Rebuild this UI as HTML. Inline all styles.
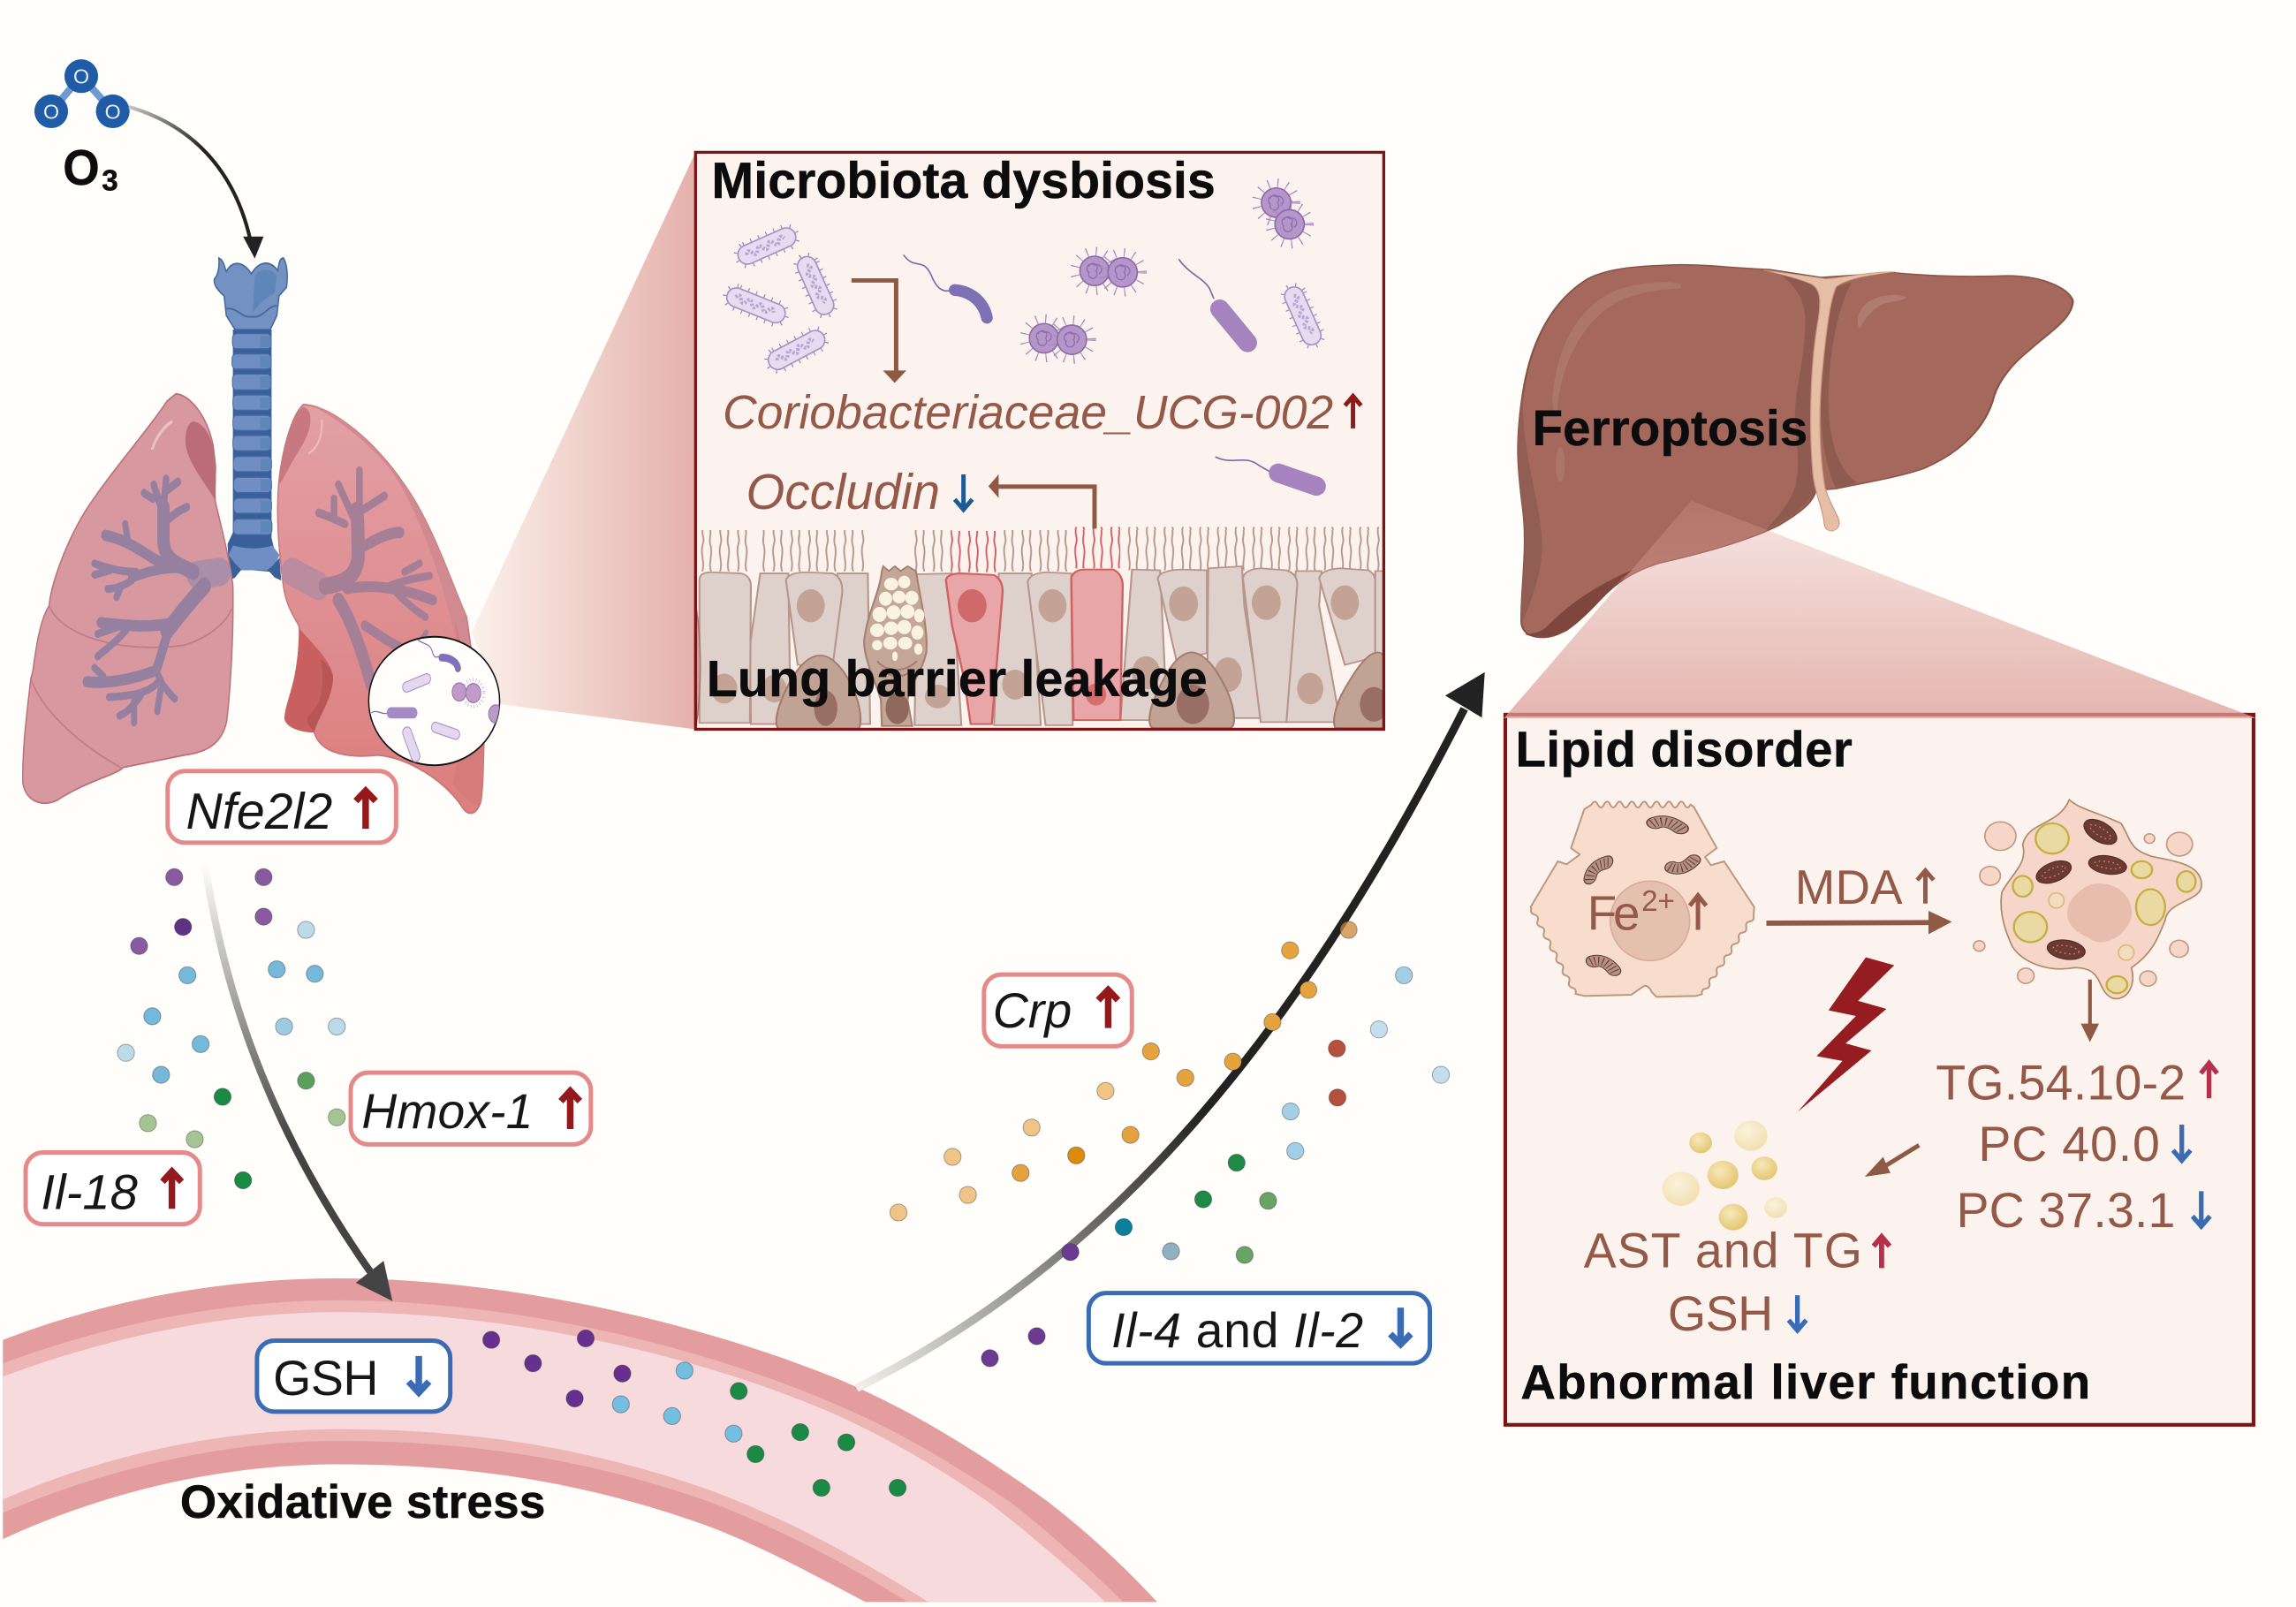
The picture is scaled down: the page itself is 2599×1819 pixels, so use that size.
<!DOCTYPE html>
<html><head><meta charset="utf-8"><style>
html,body{margin:0;padding:0;background:#fffefa}
svg{display:block}
text{font-family:"Liberation Sans",sans-serif}
.b{font-weight:700;fill:#0c0c0c;stroke:#0c0c0c;stroke-width:.3}
.k{fill:#161616}
.i{font-style:italic}
.br{fill:#95594a}
.lab{fill:#fff;stroke-width:3}
.r{stroke:#e58a8a}.u{stroke:#3a6bb5}
.tr{stroke:#95191b;stroke-width:4.5;fill:none}
.tb{stroke:#3a6bb5;stroke-width:4.5;fill:none}
.ar{fill:none;stroke:#8e5a45}
.d{stroke:rgba(40,40,50,.4);stroke-width:.6}
.th{fill:none;stroke:#7d6aa8;stroke-width:1}
.cell{fill:#ded1cb;stroke:#b89589;stroke-width:4}
.red{fill:#e9a6a9;stroke:#d0615f;stroke-width:4.5}
.nu{fill:#c2a396}
.bas{fill:#c1a395;stroke:#a47c6e;stroke-width:4}
.bn{fill:#976f65}
.dm{fill:#6d3a32;stroke:#4f2a24;stroke-width:2}
.dz{fill:none;stroke:#b98c7c;stroke-width:2.5;stroke-dasharray:3 6}
.ld{fill:#ead9a2;stroke:#c4ae3f;stroke-width:4}
.bl{fill:#f6d6c8;stroke:#c59a80;stroke-width:3}
</style></head><body>
<svg xmlns="http://www.w3.org/2000/svg" width="2599" height="1819" viewBox="0 0 1568 1097.4">
<defs>
<linearGradient id="t1" x1="322" x2="475" y1="0" y2="0" gradientUnits="userSpaceOnUse"><stop offset="0" stop-color="#fbf0ea"/><stop offset="1" stop-color="#e5b1ac"/></linearGradient>
<linearGradient id="t2" x1="0" x2="0" y1="342" y2="490" gradientUnits="userSpaceOnUse"><stop offset="0" stop-color="#dd9d98" stop-opacity=".25"/><stop offset="1" stop-color="#dd9d98" stop-opacity=".75"/></linearGradient>
<linearGradient id="a0" x1="88" x2="140" y1="73" y2="100" gradientUnits="userSpaceOnUse"><stop offset="0" stop-color="#c9c5c0"/><stop offset="1" stop-color="#222"/></linearGradient>
<linearGradient id="a1" x1="0" x2="0" y1="590" y2="780" gradientUnits="userSpaceOnUse"><stop offset="0" stop-color="#fffefa"/><stop offset="1" stop-color="#444"/></linearGradient>
<linearGradient id="a2" x1="585" x2="830" y1="948" y2="770" gradientUnits="userSpaceOnUse"><stop offset="0" stop-color="#f2efe9"/><stop offset="1" stop-color="#222"/></linearGradient>
<linearGradient id="rl" x1="0" x2="0" y1="720" y2="1400" gradientUnits="userSpaceOnUse"><stop offset="0" stop-color="#e2a0a6"/><stop offset="1" stop-color="#dc7f7f"/></linearGradient>
<radialGradient id="gold" cx=".4" cy=".35" r=".7"><stop offset="0" stop-color="#f7e8bb"/><stop offset="1" stop-color="#e3c46e"/></radialGradient>
<radialGradient id="pale" cx=".4" cy=".35" r=".7"><stop offset="0" stop-color="#fbf2dc"/><stop offset="1" stop-color="#f1dfae"/></radialGradient>
<pattern id="ci" width="38" height="105" patternUnits="userSpaceOnUse" y="1008"><path d="M9,105C2,85 14,62 7,35C4,20 10,10 7,0M28,105C35,80 22,60 30,32C33,18 26,10 29,0" fill="none" stroke="#b89589" stroke-width="3.6"/></pattern>
<pattern id="cr" width="38" height="105" patternUnits="userSpaceOnUse" y="1008"><path d="M9,105C2,85 14,62 7,35C4,20 10,10 7,0M28,105C35,80 22,60 30,32C33,18 26,10 29,0" fill="none" stroke="#d45f63" stroke-width="3.6"/></pattern>
<clipPath id="bc"><rect x="475" y="104" width="470" height="394"/></clipPath>
<clipPath id="mc"><ellipse cx="988" cy="1244" rx="149" ry="114"/></clipPath>
<clipPath id="pg"><rect x="0" y="0" width="1568" height="1094"/></clipPath>
<g id="rod">
 <rect x="-22" y="-7.5" width="44" height="15" rx="7.5" fill="none" stroke="#9c85bd" stroke-width="3.5" stroke-dasharray=".7 5"/>
 <rect x="-21" y="-6.5" width="42" height="13" rx="6.5" fill="#e6dbef" stroke="#a88fc8" stroke-width="1"/>
 <path d="M-15,0q2,-4 4,0t4,0t4,0t4,0t4,0t4,0t4,0" fill="none" stroke="#b9a3d3" stroke-width="2.5" stroke-dasharray="1.5 1"/>
</g>
<g id="coc">
 <circle r="13" fill="none" stroke="#a888c0" stroke-width="7" stroke-dasharray=".7 5.5"/>
 <circle r="10" fill="#b596c8" stroke="#9069ad" stroke-width="1"/>
 <path d="M-4,-3a3,3 0 1 1 5,3a3,3 0 1 1 -5,1a3,3 0 1 1 4,-5a3,3 0 1 1 3,6" fill="none" stroke="#8f6cb0" stroke-width=".8"/>
</g>
<g id="mito">
 <path fill="none" stroke="#5f3a30" stroke-width="40" stroke-linecap="round" d="M0,0C15,-12 35,-12 58,10"/>
 <path fill="none" stroke="#b59186" stroke-width="34" stroke-linecap="round" d="M0,0C15,-12 35,-12 58,10"/>
 <path fill="none" stroke="#5f3a30" stroke-width="28" stroke-dasharray="2.5 8" d="M-6,3C15,-12 35,-12 62,14"/>
</g>
</defs>
<rect width="1568" height="1097.4" fill="#fffefa"/>

<!-- vessel -->
<g clip-path="url(#pg)">
<path fill="#e49d9f" d="M2,915C80,885 160,873 231,873C340,873 470,900 573,942C630,966 680,1000 715,1025C745,1048 770,1072 793,1097L593,1097L591,1094C555,1075 520,1056 483,1042C400,1012 320,1000 231,1000C160,1000 80,1015 2,1051Z"/>
<path fill="#eeb5b5" d="M2,931C80,902 160,888 231,888C340,888 470,915 573,960C620,980 655,1003 689,1025C715,1045 745,1072 770,1097L623,1097L620,1094C575,1066 530,1043 483,1025C400,996 320,984 231,984C160,984 80,1000 2,1033Z"/>
<path fill="#f6dadc" d="M2,940C80,911 160,896 231,896C340,896 470,922 573,967C610,984 645,1005 674,1025C700,1045 730,1070 758,1097L637,1097L634,1094C585,1063 535,1036 483,1017C400,988 320,976 231,976C160,976 80,990 2,1024Z"/>
</g>

<!-- triangle to microbiota box -->
<polygon points="322,432 475,104 475,498 342,481" fill="url(#t1)"/>

<!-- lungs -->
<g transform="scale(.3001,.3848)">
 <!-- trachea -->
 <path fill="#3a6099" d="M530,585H618V955L640,1025L620,1015L575,1012L535,1012L522,1030L518,965L530,945Z"/>
 <g fill="#6f8fc4" stroke="#45699e" stroke-width="2">
  <rect x="529" y="592" width="88" height="27" rx="9"/><rect x="528" y="628" width="89" height="27" rx="9"/><rect x="529" y="664" width="88" height="28" rx="9"/><rect x="530" y="701" width="87" height="27" rx="9"/><rect x="530" y="737" width="87" height="27" rx="9"/><rect x="530" y="773" width="87" height="27" rx="9"/><rect x="531" y="810" width="87" height="27" rx="9"/><rect x="532" y="847" width="86" height="27" rx="9"/><rect x="532" y="884" width="86" height="27" rx="9"/><rect x="531" y="921" width="88" height="28" rx="9"/>
 </g>
 <g fill="#5f86b8"><rect x="592" y="596" width="24" height="20"/><rect x="592" y="632" width="24" height="20"/><rect x="592" y="668" width="24" height="21"/><rect x="592" y="705" width="24" height="20"/><rect x="592" y="741" width="24" height="20"/><rect x="592" y="777" width="24" height="20"/><rect x="593" y="814" width="24" height="20"/><rect x="593" y="851" width="24" height="20"/><rect x="593" y="888" width="24" height="20"/><rect x="593" y="925" width="24" height="20"/></g>
 <path fill="#6f8fc4" d="M530,968C560,975 595,975 620,968L636,985L628,1000L610,1012H550L535,1000L520,985Z"/>
 <path fill="#3a6099" d="M522,990C535,1000 545,1015 550,1010L535,1025L522,1030ZM636,990C625,1000 612,1012 608,1010L625,1025L640,1030Z"/>
 <path fill="#7392c2" stroke="#45699e" stroke-width="3" d="M498,458C510,462 512,478 515,482C530,460 555,465 572,486C590,462 615,462 632,480C635,470 635,458 645,458C655,470 655,495 652,510L635,525L630,560L615,585H535L515,560L510,525C495,515 485,505 488,495C495,490 500,475 498,458Z"/>
 <path fill="#5f86b8" d="M580,490C590,475 620,475 630,490L625,520C600,530 585,545 575,555Z"/>
 <path fill="none" stroke="#45699e" stroke-width="3" d="M515,548C540,545 550,565 572,562C600,565 605,545 630,542"/>
 <!-- left lung -->
 <path fill="#d8989f" stroke="#bb717b" stroke-width="3" d="M400,699C430,700 470,735 485,790C492,830 488,870 490,890C505,940 525,1000 530,1040C532,1120 525,1220 516,1280C505,1320 470,1335 420,1340L280,1362C265,1375 200,1385 130,1420C100,1432 60,1425 52,1390C50,1330 62,1260 70,1205L75,1190C85,1130 95,1095 112,1075C115,1040 150,960 200,900C260,830 340,760 380,712Z"/>
 <path fill="#bb6c79" d="M440,748C470,750 490,790 492,830L490,888C470,860 425,820 422,785C422,760 430,750 440,748Z"/>
 <path fill="none" stroke="#c27c85" stroke-width="3" d="M112,1075C140,1130 280,1160 420,1145C480,1130 520,1100 527,1080M70,1205C100,1270 200,1330 275,1362"/>
 <path fill="none" stroke="#e8c0c5" stroke-width="6" d="M346,798C355,775 375,755 392,748"/>
 <g fill="none" stroke="#9680a0" stroke-linecap="round">
  <path stroke="#ab8fa8" stroke-width="50" d="M500,1015L450,1020"/>
  <path stroke-width="28" d="M440,1015C400,1000 375,995 372,960L372,900"/>
  <path stroke-width="15" d="M372,915L350,860M372,900L378,850M372,930C390,915 410,905 425,900M348,885L328,875M380,870L405,855"/>
  <path stroke-width="20" d="M370,1000C330,985 300,960 240,950"/>
  <path stroke-width="14" d="M290,955L285,930M310,1015C280,1015 250,1010 215,1000M250,1012L215,1020M300,1030C280,1040 260,1045 245,1045M275,1042L265,1060"/>
  <path stroke-width="18" d="M430,1010C390,1005 350,1010 300,1025"/>
  <path stroke-width="30" d="M465,1040C430,1070 410,1090 380,1120"/>
  <path stroke-width="20" d="M395,1105C340,1115 290,1110 230,1105M385,1115C370,1150 365,1170 355,1190C320,1200 260,1215 198,1210"/>
  <path stroke-width="14" d="M270,1112L222,1125M290,1115C270,1135 245,1150 222,1165M355,1190L370,1215C380,1225 390,1235 398,1240M360,1210C340,1230 300,1235 248,1237M320,1235C305,1250 290,1265 272,1270M305,1245V1282M235,1200L215,1185M365,1225L358,1262"/>
 </g>
 <!-- right lung -->
 <path fill="url(#rl)" stroke="#c7757b" stroke-width="3" d="M690,718C760,720 860,790 920,860C985,930 1030,1040 1062,1095L1090,1250L1102,1300C1100,1350 1100,1390 1095,1420C1085,1450 1062,1448 1050,1430C1010,1385 930,1345 860,1340C800,1345 730,1340 715,1300C720,1260 700,1210 680,1110C665,1090 650,1070 645,1040C635,980 628,920 634,860C640,810 660,740 690,718Z"/>
 <path fill="#d08a90" d="M715,722C760,722 860,790 920,860C985,930 1030,1040 1062,1095L1075,1210L1035,1130C1000,1000 930,870 880,825C830,780 770,745 715,722Z"/>
 <path fill="#c87880" d="M690,722C712,726 715,760 680,800C660,825 645,850 636,860C640,810 660,740 690,722Z"/>
 <path fill="none" stroke="#eebcc0" stroke-width="4" d="M702,805C722,795 735,775 732,745"/>
 <path fill="#c86060" d="M680,1115C720,1150 750,1170 758,1200C755,1240 725,1270 715,1300C680,1300 650,1290 647,1275C650,1240 680,1210 680,1115Z"/>
 <path fill="#b85555" d="M730,1170C750,1180 758,1195 758,1205C755,1240 730,1265 716,1296C700,1290 690,1275 712,1262C735,1240 738,1210 730,1170Z"/>
 <path fill="#d67b7c" d="M1035,1100C1050,1200 1060,1300 1030,1390C1060,1420 1090,1440 1095,1420L1100,1300Z"/>
 <g fill="none" stroke="#a57f96" stroke-linecap="round">
  <path stroke="#bb8c9e" stroke-width="50" d="M665,1015L725,1040"/>
  <path stroke-width="30" d="M740,1040C790,1035 810,1020 815,990C815,960 815,930 812,905"/>
  <path stroke-width="15" d="M805,920L770,860M818,900L818,835M825,905L875,880M785,930C760,920 745,915 725,910M760,920V885"/>
  <path stroke-width="20" d="M815,975C850,960 880,945 910,945"/>
  <path stroke-width="19" d="M790,1045C850,1035 920,1045 985,1065"/>
  <path stroke-width="14" d="M885,1040C920,1030 950,1025 978,1022M920,1015L955,1000M900,1050C930,1075 950,1085 968,1095"/>
  <path stroke-width="26" d="M770,1065C800,1100 825,1160 845,1215"/>
  <path stroke-width="18" d="M830,1110C870,1130 910,1155 965,1165"/>
  <path stroke-width="10" d="M955,1140L970,1122"/>
 </g>
 <!-- magnifier -->
 <ellipse cx="988" cy="1244" rx="149" ry="114" fill="#fffefa" stroke="#111" stroke-width="3"/>
 <g clip-path="url(#mc)">
  <path fill="none" stroke="#7d6aa8" stroke-width="2" d="M950,1135C965,1145 980,1140 985,1160C990,1170 995,1165 1002,1165M845,1265C860,1258 870,1270 882,1265"/>
  <path fill="none" stroke="#8072ba" stroke-width="14" stroke-linecap="round" d="M1005,1167C1025,1167 1040,1175 1042,1186"/>
  <rect x="880" y="1255" width="70" height="20" rx="10" fill="#a38bc6"/>
  <rect x="915" y="1203" width="66" height="18" rx="9" fill="#e4d8ef" stroke="#ae98cc" stroke-width="2" transform="rotate(-18 948 1212)"/>
  <rect x="981" y="1288" width="66" height="18" rx="9" fill="#e4d8ef" stroke="#ae98cc" stroke-width="2" transform="rotate(15 1014 1297)"/>
  <rect x="903" y="1311" width="66" height="20" rx="10" fill="#e4d8ef" stroke="#ae98cc" stroke-width="2" transform="rotate(65 936 1321)"/>
  <circle cx="1045" cy="1228" r="16" fill="#c29ac9" stroke="#9f70ad" stroke-width="2"/><circle cx="1077" cy="1230" r="17" fill="#c29ac9" stroke="#9f70ad" stroke-width="2"/>
  <circle cx="1077" cy="1230" r="24" fill="none" stroke="#b58dc0" stroke-width="6" stroke-dasharray="1 6"/>
  <circle cx="1128" cy="1267" r="16" fill="#b89bc9" stroke="#9f70ad" stroke-width="2"/>
 </g>
</g>

<!-- O3 -->
<path d="M55.5,52L35,76M55.5,52L77,76" stroke="#6d9ad0" stroke-width="5"/>
<g fill="#1f5ba6"><ellipse cx="55.5" cy="52" rx="11.5" ry="11.5"/><ellipse cx="35" cy="76" rx="11.5" ry="11.5"/><ellipse cx="77" cy="76" rx="11.5" ry="11.5"/></g>
<g font-size="14" fill="#e8eef8" text-anchor="middle"><text x="55.5" y="57">O</text><text x="35" y="81">O</text><text x="77" y="81">O</text></g>
<text x="43" y="126" font-size="34" class="b" textLength="25" lengthAdjust="spacingAndGlyphs">O</text><text x="69.5" y="130" font-size="20" class="b">3</text>
<path d="M88,73C130,85 160,115 171,164" fill="none" stroke="url(#a0)" stroke-width="2.5"/>
<polygon points="166,161.5 180,161.5 174,176.5" fill="#222"/>

<!-- label Nfe2l2 -->
<rect x="114.5" y="526.5" width="156" height="49" rx="12" class="lab r"/>
<text x="127" y="566" font-size="34.5" class="k i" textLength="100">Nfe2l2</text>
<path class="tr" d="M249.7,566V542M243,547L249.7,540L256.5,547"/>

<!-- particles left -->
<g class="d">
<g fill="#8a5aa0"><circle cx="119" cy="599" r="5.8"/><circle cx="180" cy="599" r="5.8"/><circle cx="180" cy="626" r="5.8"/><circle cx="95" cy="646" r="5.8"/></g>
<circle cx="125" cy="633" r="5.8" fill="#5f3285"/>
<g fill="#bcdbe8"><circle cx="209" cy="635" r="5.8"/><circle cx="230" cy="701" r="5.8"/><circle cx="86" cy="719" r="5.8"/></g>
<g fill="#74b8da"><circle cx="128" cy="666" r="5.8"/><circle cx="189" cy="662" r="5.8"/><circle cx="215" cy="665" r="5.8"/><circle cx="104" cy="694" r="5.8"/><circle cx="137" cy="713" r="5.8"/><circle cx="110" cy="734" r="5.8"/></g>
<circle cx="194" cy="701" r="5.8" fill="#9ccbe2"/>
<g fill="#1b8a45"><circle cx="152" cy="749" r="5.8"/><circle cx="166" cy="806" r="5.8"/></g>
<circle cx="209" cy="738" r="5.8" fill="#5b9f5e"/>
<g fill="#a4c591"><circle cx="230" cy="763" r="5.8"/><circle cx="101" cy="767" r="5.8"/><circle cx="133" cy="778" r="5.8"/></g>
<!-- vessel -->
<g fill="#66308f"><circle cx="335.5" cy="915" r="5.8"/><circle cx="400" cy="914" r="5.8"/><circle cx="364" cy="931" r="5.8"/><circle cx="425" cy="938" r="5.8"/><circle cx="392.5" cy="955" r="5.8"/></g>
<g fill="#74bfe0"><circle cx="467.5" cy="936" r="5.8"/><circle cx="424" cy="959" r="5.8"/><circle cx="459" cy="967" r="5.8"/><circle cx="501" cy="979" r="5.8"/></g>
<g fill="#1b8a45"><circle cx="504.5" cy="950" r="5.8"/><circle cx="546.5" cy="978" r="5.8"/><circle cx="578" cy="985" r="5.8"/><circle cx="516" cy="993" r="5.8"/><circle cx="561" cy="1016" r="5.8"/><circle cx="613" cy="1016" r="5.8"/></g>
</g>

<!-- arrow down -->
<path d="M140,590C155,690 190,780 256,873" fill="none" stroke="url(#a1)" stroke-width="5"/>
<polygon points="243,876 262,861 268,888.5" fill="#444"/>

<!-- labels left -->
<rect x="239.5" y="732.5" width="164" height="49" rx="12" class="lab r"/>
<text x="247" y="770.5" font-size="33.3" class="k i" textLength="117">Hmox-1</text>
<path class="tr" d="M389.4,771V748M383,752L389.4,745L396,752"/>
<rect x="17.5" y="787" width="119" height="49" rx="12" class="lab r"/>
<text x="28" y="825.5" font-size="33.8" class="k i" textLength="66">Il-18</text>
<path class="tr" d="M117.4,825.5V802M111,807L117.4,800L124,807"/>
<rect x="175.5" y="915.5" width="132" height="48.5" rx="12" class="lab u"/>
<text x="186.5" y="952.5" font-size="33.5" class="k" textLength="72">GSH</text>
<path class="tb" d="M286,926V950M279,943.5L286,951L293,943.5"/>

<!-- Microbiota box -->
<rect x="475" y="104" width="470" height="394" fill="#fcf3ee"/>
<g clip-path="url(#bc)">
<g transform="translate(458.5,90.5) scale(.3194,.2693)">
 <rect x="55" y="1008" width="110" height="105" fill="url(#ci)"/><rect x="190" y="1008" width="232" height="105" fill="url(#ci)"/><rect x="510" y="1008" width="90" height="105" fill="url(#ci)"/><rect x="700" y="1008" width="155" height="105" fill="url(#ci)"/><rect x="965" y="1000" width="560" height="110" fill="url(#ci)"/>
 <rect x="598" y="1010" width="100" height="105" fill="url(#cr)"/><rect x="852" y="1000" width="108" height="105" fill="url(#cr)"/>
 <path class="cell" d="M190,1118H250L255,1500H170L168,1300Z"/>
 <path class="cell" d="M60,1135Q60,1115 85,1115L150,1118Q170,1125 170,1150L168,1497H60Z"/>
 <path class="cell" d="M355,1118H420L425,1500H330Z"/>
 <path class="cell" d="M245,1135Q250,1115 290,1115L345,1118Q368,1130 365,1170L345,1350L270,1350Z"/>
 <path class="cell" d="M525,1120L600,1118L620,1503H520Z"/>
 <path class="cell" d="M700,1118H770L790,1503H690Z"/>
 <path class="cell" d="M762,1140Q765,1118 800,1115L855,1118L858,1503H800Z"/>
 <path class="cell" d="M985,1108L1045,1110L1060,1490H960Z"/>
 <path class="cell" d="M1040,1130Q1045,1110 1090,1108L1145,1110V1320L1080,1340Z"/>
 <path class="cell" d="M1148,1105L1220,1100L1225,1200L1262,1485H1145Z"/>
 <path class="cell" d="M1335,1112L1390,1112L1385,1200L1430,1495H1315Z"/>
 <path class="cell" d="M1222,1130Q1225,1108 1260,1105L1315,1110Q1340,1120 1338,1150L1315,1495H1260Z"/>
 <path class="cell" d="M1385,1130Q1390,1108 1430,1105L1490,1110Q1508,1120 1505,1150V1330L1440,1350Z"/>
 <path class="cell" d="M1505,1112H1540V1500H1450L1505,1330Z"/>
 <ellipse class="nu" cx="113" cy="1410" rx="28" ry="38"/><ellipse class="nu" cx="298" cy="1200" rx="30" ry="42"/><ellipse class="nu" cx="815" cy="1200" rx="30" ry="42"/><ellipse class="nu" cx="735" cy="1400" rx="28" ry="38"/><ellipse class="nu" cx="1095" cy="1195" rx="31" ry="44"/><ellipse class="nu" cx="1190" cy="1375" rx="30" ry="44"/><ellipse class="nu" cx="1272" cy="1192" rx="31" ry="44"/><ellipse class="nu" cx="1366" cy="1410" rx="28" ry="40"/><ellipse class="nu" cx="1440" cy="1192" rx="30" ry="44"/><ellipse class="nu" cx="1015" cy="1370" rx="30" ry="42"/><ellipse class="nu" cx="570" cy="1430" rx="28" ry="30"/><ellipse class="nu" cx="220" cy="1410" rx="26" ry="35"/>
 <!-- goblet -->
 <path fill="#c3a697" stroke="#a58270" stroke-width="4" d="M450,1112L453,1100L465,1112L478,1100L490,1112L505,1100L523,1112C530,1170 550,1260 545,1320C535,1370 510,1400 505,1440L515,1505H450L448,1440C440,1400 412,1340 412,1290C418,1220 445,1170 450,1112Z"/>
 <g fill="#faf3df">
  <ellipse cx="470" cy="1145" rx="15" ry="16"/><ellipse cx="498" cy="1140" rx="13" ry="16"/><ellipse cx="514" cy="1180" rx="14" ry="18"/><ellipse cx="487" cy="1178" rx="14" ry="16"/><ellipse cx="458" cy="1182" rx="14" ry="18"/><ellipse cx="445" cy="1222" rx="15" ry="19"/><ellipse cx="475" cy="1217" rx="15" ry="18"/><ellipse cx="505" cy="1215" rx="15" ry="18"/><ellipse cx="530" cy="1225" rx="11" ry="17"/><ellipse cx="440" cy="1262" rx="15" ry="17"/><ellipse cx="470" cy="1257" rx="15" ry="17"/><ellipse cx="498" cy="1254" rx="15" ry="18"/><ellipse cx="526" cy="1268" rx="13" ry="18"/><ellipse cx="468" cy="1295" rx="15" ry="16"/><ellipse cx="500" cy="1295" rx="15" ry="16"/><ellipse cx="440" cy="1300" rx="11" ry="13"/><ellipse cx="528" cy="1310" rx="9" ry="14"/><ellipse cx="478" cy="1328" rx="6" ry="12"/>
 </g>
 <path fill="none" stroke="#a07c6a" stroke-width="4" d="M440,1340C460,1370 500,1370 525,1340M450,1360C470,1385 500,1385 515,1360"/>
 <ellipse cx="483" cy="1460" rx="25" ry="40" fill="#8f6a5c"/>
 <!-- red cells -->
 <path class="red" d="M587,1135Q590,1118 620,1118L690,1122Q710,1135 708,1170L685,1500H640L625,1380L600,1250Z"/>
 <ellipse cx="643" cy="1200" rx="31" ry="42" fill="#d06a6a"/>
 <path class="red" d="M855,1130Q860,1108 885,1108H945Q965,1120 965,1150L960,1490H860Z"/>
 <ellipse cx="908" cy="1425" rx="22" ry="28" fill="#d46f6f"/>
 <!-- basal -->
 <path class="bas" d="M318,1326C350,1326 380,1380 395,1430C410,1480 405,1515 395,1518H235C220,1510 222,1480 235,1440C255,1380 285,1326 318,1326Z"/>
 <ellipse class="bn" cx="330" cy="1460" rx="25" ry="45"/>
 <path class="bas" d="M1112,1318C1145,1320 1170,1370 1190,1420C1205,1465 1208,1505 1195,1510H1030C1018,1505 1020,1470 1035,1430C1055,1375 1080,1320 1112,1318Z"/>
 <ellipse class="bn" cx="1115" cy="1450" rx="35" ry="50"/>
 <path class="bas" d="M1510,1318C1530,1320 1540,1350 1540,1510H1420C1412,1495 1420,1450 1440,1410C1460,1370 1485,1320 1510,1318Z"/>
 <ellipse class="bn" cx="1502" cy="1450" rx="30" ry="44"/>
 <path fill="#c2a698" stroke="#9d7a6a" stroke-width="3" d="M52,1200C65,1280 65,1420 52,1510Z"/>
</g>
</g>
<!-- bacteria -->
<use href="#rod" transform="translate(523.7,168) rotate(-24)"/>
<use href="#rod" transform="translate(557,195) rotate(66)"/>
<use href="#rod" transform="translate(516.3,208.5) rotate(22)"/>
<use href="#rod" transform="translate(544,239) rotate(-28)"/>
<use href="#rod" transform="translate(889.7,215.7) rotate(66)"/>
<path class="th" d="M617,174C625,185 630,175 636,188C640,198 645,200 650,198M805,177C812,187 822,190 826,197L829,204M830,312C842,318 850,310 860,318L867,322"/>
<path d="M652,198C664,199 672,207 674,217" fill="none" stroke="#7d70b3" stroke-width="8" stroke-linecap="round"/>
<path d="M833,211L852,234" fill="none" stroke="#a583bf" stroke-width="13" stroke-linecap="round"/>
<path d="M873,323L899,332" fill="none" stroke="#a583bf" stroke-width="13" stroke-linecap="round"/>
<use href="#coc" transform="translate(747.5,185)"/><use href="#coc" transform="translate(766.7,186)"/>
<use href="#coc" transform="translate(713,231)"/><use href="#coc" transform="translate(732,232)"/>
<use href="#coc" transform="translate(871.5,138.4)"/><use href="#coc" transform="translate(880.7,153.2)"/>
<rect x="475" y="104" width="470" height="394" fill="none" stroke="#7e1416" stroke-width="2"/>
<text x="486" y="135" font-size="34.5" class="b" textLength="344">Microbiota dysbiosis</text>
<text x="493.5" y="292.5" font-size="32.3" class="br i" textLength="417" fill="#8f5a45">Coriobacteriaceae_UCG-002</text>
<text x="509.5" y="347.5" font-size="34" class="br i" textLength="132.5">Occludin</text>
<text x="482.5" y="475.5" font-size="34.5" class="b" textLength="342">Lung barrier leakage</text>
<path d="M924,292.5V272M918.5,277L924,270.5L929.5,277" fill="none" stroke="#8f1a1a" stroke-width="3"/>
<path d="M658,324V347M652,341L658,348L664,341" fill="none" stroke="#1d5a96" stroke-width="3"/>
<path class="ar" stroke-width="3" d="M581.5,191.5H612V254"/><polygon points="603,253 619,253 611,261.5" fill="#8e5a45"/>
<path class="ar" stroke-width="3" d="M747.5,361V332.3H682"/><polygon points="682,324 682,340 675,332" fill="#8e5a45"/>

<!-- liver -->
<g transform="translate(1013.6,168.9) scale(.3536,.2155)">
 <path fill="#a4695c" stroke="#8a5347" stroke-width="4" d="M380,55C300,58 240,65 200,100C130,170 90,300 75,460C60,620 65,700 75,830C85,950 70,1100 72,1190C75,1235 105,1240 125,1235C160,1225 180,1180 215,1130C250,1070 280,1030 340,1000C420,970 510,930 570,880C610,840 635,810 640,770L680,765C720,750 800,730 850,700C920,650 970,570 985,470C995,420 1020,370 1050,330C1090,270 1135,230 1137,170C1130,130 1080,90 1010,90C930,95 850,90 790,80L650,95L550,70C480,65 430,55 380,55Z"/>
 <path fill="#8f5b51" d="M560,75C600,110 620,170 620,230C620,350 600,450 600,540C605,640 610,700 600,760C585,830 560,860 545,895C590,860 625,820 640,770L650,100Z"/>
 <path fill="#925e54" d="M75,460C60,620 65,700 75,830C85,950 70,1100 72,1190C90,1130 110,1040 112,950C110,800 70,650 75,460Z"/>
 <path fill="#7f463d" d="M125,1195C170,1120 230,1060 290,1020C250,1060 210,1160 160,1215C130,1240 95,1240 78,1225C100,1225 115,1215 125,1195Z"/>
 <path fill="#8f5b51" d="M680,125C670,180 650,300 650,500C650,600 660,700 680,765L720,745C680,700 665,600 665,480C665,350 680,200 710,110Z"/>
 <path fill="#e6bda5" stroke="#c9967e" stroke-width="2" d="M540,72C600,85 640,95 660,100C700,95 750,75 795,78C740,88 700,100 680,125C670,160 663,230 655,360C647,480 644,620 658,760C668,820 690,860 685,880C680,905 660,905 657,880C655,830 640,790 635,720C628,600 628,400 643,250C652,170 650,130 630,115C600,95 570,85 540,72Z"/>
 <path fill="#b07b70" opacity=".75" d="M380,120C375,105 300,105 250,140C180,190 140,320 132,470C132,510 135,530 140,530C145,400 175,270 240,190C280,145 330,135 380,130Z"/>
 <path fill="#b07b70" d="M815,158C800,145 760,150 740,175C720,200 718,240 725,258C735,230 745,200 770,180C790,170 815,168 815,158Z"/>
 <ellipse cx="147" cy="688" rx="9" ry="55" fill="#b07b70" opacity=".7"/>
</g>
<text x="1046.5" y="304" font-size="34" class="b" textLength="188">Ferroptosis</text>

<!-- liver box -->
<rect x="1028" y="488" width="511" height="485" fill="#fcf3ee" stroke="#7e1416" stroke-width="2.5"/>
<polygon points="1155,342 1541,490.5 1027,490.5" fill="url(#t2)"/>
<text x="1035" y="523.5" font-size="34" class="b" textLength="230">Lipid disorder</text>
<text x="1038.5" y="955" font-size="33" class="b" textLength="389">Abnormal liver function</text>

<!-- healthy cell -->
<g transform="translate(1037.7,530.9) scale(.2011)">
 <path fill="#f8dccc" stroke="#bb9880" stroke-width="6" stroke-linejoin="round" d="M220,108L245,92q11,-20 21,0t21,0t21,0t21,0t21,0t21,0t21,0t21,0t21,0t21,0t21,0t21,0t21,0t21,0t21,0t21,0L592,100L670,240L630,270L650,298L695,285L797,440L795,470q3.75,16 -12.5,19t-12.5,19t-12.5,19t-12.5,19t-12.5,19t-12.5,19t-12.5,19t-12.5,19t-12.5,19t-12.5,19t-12.5,19t-12.5,19t-12.5,19t-12.5,19L600,742L465,745L450,730q-15,-30 -30,-20t-40,28L220,742L190,735q5.25,-15.85 -10.7,-20.7t-10.7,-20.7t-10.7,-20.7t-10.7,-20.7t-10.7,-20.7t-10.7,-20.7t-10.7,-20.7t-10.7,-20.7t-10.7,-20.7t-10.7,-20.7t-10.7,-20.7t-10.7,-20.7t-10.7,-20.7t-10.7,-20.7L38,440L130,285L160,295L205,262L175,240Z"/>
 <circle cx="443" cy="487" r="135" fill="#e4c0ae" stroke="#d8ac9c" stroke-width="5"/>
 <use href="#mito" transform="translate(460,155) rotate(5) scale(1.5,1)"/>
 <use href="#mito" transform="translate(240,340) rotate(-50) scale(1.3,1)"/>
 <use href="#mito" transform="translate(518,305) rotate(-10) scale(1.3,-1)"/>
 <use href="#mito" transform="translate(250,625) rotate(15) scale(1.3,1)"/>
</g>
<g transform="translate(1013.6,476.6) scale(.3536,.3232)">
 <!-- dying cell -->
 <circle class="bl" cx="997" cy="292" r="30"/><circle class="bl" cx="977" cy="376" r="20"/><circle class="bl" cx="1343" cy="309" r="25"/><circle class="bl" cx="1285" cy="297" r="10"/><circle class="bl" cx="956" cy="524" r="11"/><circle class="bl" cx="1046" cy="587" r="16"/><circle class="bl" cx="1342" cy="530" r="18"/><circle class="bl" cx="1282" cy="593" r="16"/>
 <path fill="#f6d6c8" stroke="#b08a68" stroke-width="3" d="M1130,215C1150,235 1180,240 1230,265C1250,300 1245,320 1290,335C1330,345 1390,350 1385,400C1380,430 1320,430 1315,470C1300,510 1290,540 1250,570C1260,610 1240,640 1215,635C1180,620 1200,570 1140,570C1090,580 1040,560 1020,525C1000,480 995,440 1000,410C1020,370 1050,350 1040,310C1050,260 1110,270 1130,215Z"/>
 <path fill="#e7bdae" d="M1190,392C1235,395 1255,430 1250,465C1235,510 1190,530 1165,505C1130,490 1115,460 1135,425C1150,405 1170,390 1190,392Z"/>
 <ellipse class="ld" cx="1097" cy="297" rx="32" ry="32"/><ellipse class="ld" cx="1040" cy="398" rx="19" ry="22"/><ellipse class="ld" cx="1055" cy="484" rx="32" ry="32"/><ellipse class="ld" cx="1287" cy="442" rx="28" ry="38"/><ellipse class="ld" cx="1270" cy="363" rx="20" ry="18"/><ellipse class="ld" cx="1356" cy="388" rx="18" ry="22"/><ellipse cx="1105" cy="428" rx="15" ry="16" fill="#f3dcc0" stroke="#d8bd7a" stroke-width="3"/><ellipse cx="1240" cy="538" rx="15" ry="16" fill="#f3dcc0" stroke="#d8bd7a" stroke-width="3"/><ellipse class="ld" cx="1222" cy="606" rx="20" ry="18"/>
 <ellipse class="dm" cx="1190" cy="283" rx="36" ry="20" transform="rotate(35 1190 283)"/><ellipse class="dm" cx="1100" cy="368" rx="36" ry="20" transform="rotate(-25 1100 368)"/><ellipse class="dm" cx="1204" cy="353" rx="37" ry="19" transform="rotate(10 1204 353)"/><ellipse class="dm" cx="1124" cy="532" rx="37" ry="20" transform="rotate(10 1124 532)"/>
 <ellipse class="dz" cx="1190" cy="283" rx="24" ry="8" transform="rotate(35 1190 283)"/><ellipse class="dz" cx="1100" cy="368" rx="24" ry="8" transform="rotate(-25 1100 368)"/><ellipse class="dz" cx="1204" cy="353" rx="25" ry="7" transform="rotate(10 1204 353)"/><ellipse class="dz" cx="1124" cy="532" rx="25" ry="8" transform="rotate(10 1124 532)"/>
 <polygon fill="#951c20" points="737,548 792,565 722,640 777,657 698,730 748,745 605,875 692,767 642,757 718,672 665,660"/>
 <!-- droplets -->
 <circle cx="418" cy="940" r="22" fill="url(#gold)"/><circle cx="515" cy="925" r="32" fill="url(#pale)"/><circle cx="380" cy="1037" r="36" fill="url(#pale)"/><circle cx="461" cy="1008" r="30" fill="url(#gold)"/><circle cx="541" cy="994" r="25" fill="url(#gold)"/><circle cx="481" cy="1097" r="28" fill="url(#gold)"/><circle cx="563" cy="1077" r="22" fill="url(#pale)"/>
</g>
<text x="1084" y="635" font-size="33" class="br" textLength="36">Fe</text>
<text x="1121" y="622" font-size="20" class="br">2+</text>
<path d="M1159.6,635V613M1154,618.5L1159.6,611.5L1165.2,618.5" fill="none" stroke="#95594a" stroke-width="3"/>
<text x="1225.8" y="617.2" font-size="33" class="br" textLength="73.5">MDA</text>
<path d="M1314.9,617V596M1309.3,601L1314.9,594.5L1320.5,601" fill="none" stroke="#95594a" stroke-width="3"/>
<path class="ar" stroke-width="3.5" d="M1206.3,630.4L1318,630"/><polygon points="1317,622 1317,638 1333,629.5" fill="#8e5a45"/>
<path class="ar" stroke-width="2.5" d="M1427.3,668.9V701"/><polygon points="1421,699 1433.5,699 1427.3,711.6" fill="#8e5a45"/>
<path class="ar" stroke-width="3" d="M1310.6,782L1283,799"/><polygon points="1273.5,803.6 1286,790 1291,801" fill="#8e5a45"/>
<text x="1322" y="750.7" font-size="33.5" class="br" textLength="170.7">TG.54.10-2</text>
<path d="M1508.6,750V727M1503,733L1508.6,726L1514.2,733" fill="none" stroke="#b4304c" stroke-width="3.2"/>
<text x="1351" y="792.7" font-size="33.5" class="br" textLength="124">PC 40.0</text>
<path d="M1490,768V792M1484,785.5L1490,792.5L1496,785.5" fill="none" stroke="#3a6bb5" stroke-width="3.2"/>
<text x="1336" y="838" font-size="33.5" class="br" textLength="149.6">PC 37.3.1</text>
<path d="M1503.3,813.5V837M1497.3,830.5L1503.3,837.5L1509.3,830.5" fill="none" stroke="#3a6bb5" stroke-width="3.2"/>
<text x="1081.5" y="865.4" font-size="33.5" class="br" textLength="190.2">AST and TG</text>
<path d="M1285,866V845.5M1279.5,851L1285,844.5L1290.5,851" fill="none" stroke="#b4304c" stroke-width="3.5"/>
<text x="1139" y="908.7" font-size="33.5" class="br" textLength="72">GSH</text>
<path d="M1227.5,884.5V908M1221.5,901.5L1227.5,908.5L1233.5,901.5" fill="none" stroke="#3a6bb5" stroke-width="3.2"/>

<!-- oxidative text -->
<text x="123" y="1036.5" font-size="32" class="b" textLength="249.5">Oxidative stress</text>

<!-- right arrow -->
<path d="M585,948C720,880 860,760 1000,484" fill="none" stroke="url(#a2)" stroke-width="5.5"/>
<polygon points="1014,459 1012,490 987,475" fill="#222"/>

<!-- particles right -->
<g class="d">
<g fill="#efc487"><circle cx="755" cy="745" r="5.8"/><circle cx="704.5" cy="770" r="5.8"/><circle cx="650.5" cy="790" r="5.8"/><circle cx="661" cy="816" r="5.8"/><circle cx="613.6" cy="828" r="5.8"/></g>
<circle cx="921" cy="635" r="5.8" fill="#c9873a" fill-opacity=".75"/>
<g fill="#e5a33f"><circle cx="881" cy="649" r="5.8"/><circle cx="893.5" cy="676" r="5.8"/><circle cx="869" cy="698" r="5.8"/><circle cx="786" cy="718" r="5.8"/><circle cx="842" cy="725" r="5.8"/><circle cx="809.5" cy="736" r="5.8"/><circle cx="772" cy="775" r="5.8"/><circle cx="697" cy="801" r="5.8"/></g>
<circle cx="735" cy="789" r="5.8" fill="#db8b0e"/>
<circle cx="958.8" cy="666" r="5.8" fill="#a3cfe6"/><g fill="#c4dfeb"><circle cx="941.7" cy="703" r="5.8"/><circle cx="984" cy="734" r="5.8"/></g><g fill="#a3cfe6"><circle cx="881.4" cy="759" r="5.8"/><circle cx="884.6" cy="786" r="5.8"/></g>
<g fill="#b5503f"><circle cx="913" cy="716" r="5.8"/><circle cx="913.4" cy="749.5" r="5.8"/></g>
<g fill="#1f8a45"><circle cx="844.5" cy="794" r="5.8"/><circle cx="821.7" cy="819" r="5.8"/></g>
<g fill="#6aa366"><circle cx="866" cy="820" r="5.8"/><circle cx="850" cy="857" r="5.8"/></g>
<circle cx="767.4" cy="838" r="5.8" fill="#0a7f9a"/><circle cx="799.7" cy="854.5" r="5.8" fill="#8fb0bf"/>
<g fill="#6d3a92"><circle cx="731" cy="855" r="5.8"/><circle cx="708" cy="912.5" r="5.8"/><circle cx="676" cy="927.5" r="5.8"/></g>
</g>

<!-- labels right -->
<rect x="672" y="665.5" width="101" height="49" rx="12" class="lab r"/>
<text x="678" y="701.5" font-size="33.5" class="k i" textLength="54">Crp</text>
<path class="tr" d="M756.8,702V677M750,683L756.8,676L763.5,683"/>
<rect x="743.5" y="883" width="233" height="48" rx="12" class="lab u"/>
<text x="759" y="920" font-size="33.5" class="k" textLength="172"><tspan font-style="italic">Il-4</tspan> and <tspan font-style="italic">Il-2</tspan></text>
<path class="tb" d="M956.5,893V917M949.5,911L956.5,918L963.5,911"/>
</svg>
</body></html>
